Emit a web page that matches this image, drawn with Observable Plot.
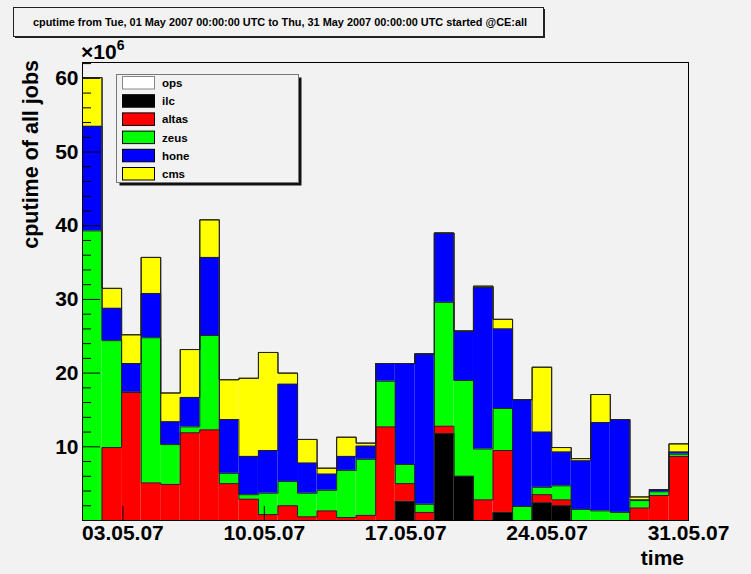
<!DOCTYPE html>
<html><head><meta charset="utf-8">
<script src="https://cdn.jsdelivr.net/npm/d3@7"></script>
<script src="https://cdn.jsdelivr.net/npm/@observablehq/plot@0.6"></script>
<style>
html,body{margin:0;padding:0;background:#f2f2f2;}
#chart{position:relative;width:751px;height:574px;}
svg text{font-family:"Liberation Sans",Arial,Helvetica,sans-serif;font-weight:bold;}
</style></head><body><div id="chart"></div>
<script>
// legend order and colors
const series = ["ops","ilc","altas","zeus","hone","cms"];
const colors = ["#ffffff","#000000","#ff0000","#00ff00","#0000ff","#ffff00"];
// stacking order, bottom to top
const stackOrder = ["ilc","altas","zeus","hone","cms","ops"];

// 31 bins between 01 May 2007 and 31 May 2007 (values in units of 10^6)
const ops   = [0,0,0,0,0,0,0,0,0,0,0,0,0,0,0,0,0,0,0,0,0,0,0,0,0,0,0,0,0,0,0];
const ilc   = [0,0,0,0,0,0,0,0,0,0,0,0,0,0,0,0,2.6,0,11.8,6.0,0,1.1,0,2.4,2.0,0,0,0,0,0,0];
const altas = [0,9.9,17.4,5.1,4.9,11.9,12.3,5.0,2.9,0.8,2.0,0.5,1.3,0.4,0.7,12.7,2.4,1.1,1.0,0,2.8,8.4,0,1.1,0.8,0,0,0,1.7,3.4,8.7];
const zeus  = [39.3,14.5,0,19.7,5.4,0.8,12.8,1.4,0.6,2.9,3.3,3.2,2.8,6.4,7.6,6.2,2.6,1.1,16.8,13.0,6.9,5.7,1.9,1.0,1.9,1.5,1.3,1.1,1.0,0.5,0.3];
const hone  = [14.2,4.4,3.9,6.0,3.1,4.0,10.6,7.3,5.2,5.8,13.2,4.1,2.2,1.9,1.8,2.4,13.7,20.4,9.4,6.7,21.9,10.8,14.5,7.5,4.6,6.6,12.0,12.6,0.1,0.3,0.3];
const cms   = [6.6,2.7,3.9,4.9,3.9,6.5,5.1,5.4,10.6,13.3,1.5,3.2,0.8,2.6,0.4,0,0,0,0,0,0.2,1.3,0,8.8,0.6,0.3,3.8,0,0.4,0,1.1];

const tickDates = ["2007-05-03","2007-05-10","2007-05-17","2007-05-24","2007-05-31"];
const yTicks = [10,20,30,40,50,60];
const yMinor = [2,4,6,8,12,14,16,18,22,24,26,28,32,34,36,38,42,44,46,48,52,54,56,58,62];

const values = {ops, ilc, altas, zeus, hone, cms};
const colorOf = Object.fromEntries(series.map((s,i)=>[s,colors[i]]));
const start = Date.UTC(2007,4,1), end = Date.UTC(2007,4,31);
const nBins = 31;
const binW = (end-start)/nBins;

const rects = [], steps = [];
for (let i=0;i<nBins;i++){
  let base = 0;
  for (const s of stackOrder){
    const v = values[s][i];
    rects.push({series:s, x1:new Date(start+i*binW), x2:new Date(start+(i+1)*binW), y1:base, y2:base+v});
    base += v;
    steps.push({series:s, x:new Date(start+i*binW), y:base});
    if (i===nBins-1) steps.push({series:s, x:new Date(end), y:base});
  }
}

const W=751,H=574,mL=82,mR=63,mT=62,mB=54;
const plot = Plot.plot({
  width:W, height:H, marginLeft:mL, marginRight:mR, marginTop:mT, marginBottom:mB,
  style:{background:"#f2f2f2", overflow:"visible"},
  x:{type:"utc", domain:[new Date(start), new Date(end)]},
  y:{domain:[0,62.15]},
  marks:[
    Plot.rect(rects,{x1:"x1",x2:"x2",y1:"y1",y2:"y2",fill:d=>colorOf[d.series]}),
    Plot.line(steps,{x:"x",y:"y",z:"series",curve:"step-after",stroke:"#222",strokeWidth:1}),
    Plot.ruleX(tickDates.map(d=>new Date(d)),{x:d=>d, insetTop:(H-mT-mB)-14, stroke:"#000"}),
    Plot.ruleY(yTicks,{y:d=>d, insetRight:(W-mL-mR)-18, stroke:"#000"}),
    Plot.ruleY(yMinor,{y:d=>d, insetRight:(W-mL-mR)-9, stroke:"#000"}),
    Plot.axisY({ticks:yTicks, tickSize:0, tickPadding:4, fontSize:21, label:null}),
    Plot.axisX({ticks:tickDates.map(d=>new Date(d)), tickSize:0, tickPadding:5, tickFormat:d3.utcFormat("%d.%m.%y"), fontSize:21, label:null}),
    Plot.frame({stroke:"#000"})
  ]
});
document.getElementById("chart").appendChild(plot);
const svg = d3.select(plot);

// title box
svg.append("rect").attr("x",15).attr("y",9).attr("width",530).attr("height",29).attr("fill","#222");
svg.append("rect").attr("x",13.5).attr("y",7.5).attr("width",530).attr("height",29).attr("fill","#f2f2f2").attr("stroke","#222");
svg.append("text").attr("x",280).attr("y",25.5).attr("text-anchor","middle").attr("font-size",10.9).attr("fill","#000")
  .text("cputime from Tue, 01 May 2007 00:00:00 UTC to Thu, 31 May 2007 00:00:00 UTC started @CE:all");

// axis titles
svg.append("text").attr("transform","translate(37.5,60) rotate(-90)").attr("text-anchor","end").attr("font-size",21.5).attr("fill","#000").text("cputime of all jobs");
svg.append("text").attr("x",684).attr("y",565).attr("text-anchor","end").attr("font-size",21).attr("fill","#000").text("time");
const mult = svg.append("text").attr("x",81).attr("y",58.5).attr("text-anchor","start").attr("font-size",21).attr("fill","#000");
mult.append("tspan").text("\u00d710");
mult.append("tspan").attr("font-size",14).attr("dy",-9).text("6");

// legend
const lg = svg.append("g").attr("text-anchor","start");
lg.append("rect").attr("x",119.5).attr("y",77.5).attr("width",182).attr("height",108).attr("fill","#111");
lg.append("rect").attr("x",116.5).attr("y",74.5).attr("width",182).attr("height",108).attr("fill","#f2f2f2").attr("stroke","#777");
series.forEach((s,i)=>{
  const y = 76.5 + i*18.2;
  lg.append("rect").attr("x",122.5).attr("y",y).attr("width",32).attr("height",12.5).attr("fill",colors[i]).attr("stroke",i===0?"#888":"#000");
  lg.append("text").attr("x",162).attr("y",y+10.5).attr("text-anchor","start").attr("font-size",11.5).attr("fill","#000").text(s);
});
</script></body></html>
